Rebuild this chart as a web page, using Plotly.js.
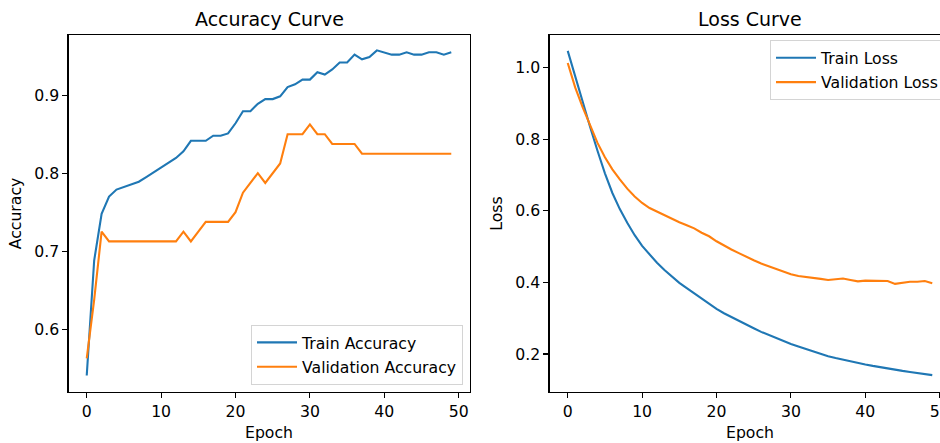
<!DOCTYPE html>
<html>
<head>
<meta charset="utf-8">
<script src="https://cdn.plot.ly/plotly-3.0.1.min.js"></script>
<style>
  html, body { margin: 0; padding: 0; background: #fff; overflow: hidden; }
  #chart { width: 960px; height: 443px; }
</style>
</head>
<body>
<div id="chart"></div>
<script>
// ---- data ----
const epochs = Array.from({length: 50}, (_, i) => i);

const trainAccuracy = [
  0.5406, 0.6880, 0.7480, 0.7700, 0.7790, 0.7820, 0.7855, 0.7890, 0.7950, 0.8010,
  0.8070, 0.8130, 0.8195, 0.8280, 0.8415, 0.8415, 0.8415, 0.8480, 0.8480, 0.8510,
  0.8640, 0.8795, 0.8795, 0.8890, 0.8950, 0.8950, 0.8985, 0.9105, 0.9140, 0.9200,
  0.9200, 0.9295, 0.9265, 0.9330, 0.9420, 0.9420, 0.9520, 0.9460, 0.9490, 0.9575,
  0.9550, 0.9520, 0.9520, 0.9550, 0.9520, 0.9520, 0.9550, 0.9550, 0.9520, 0.9550
];

const valAccuracy = [
  0.5625, 0.6375, 0.7250, 0.7125, 0.7125, 0.7125, 0.7125, 0.7125, 0.7125, 0.7125,
  0.7125, 0.7125, 0.7125, 0.7250, 0.7125, 0.7250, 0.7375, 0.7375, 0.7375, 0.7375,
  0.7500, 0.7750, 0.7875, 0.8000, 0.7875, 0.8000, 0.8125, 0.8500, 0.8500, 0.8500,
  0.8625, 0.8500, 0.8500, 0.8375, 0.8375, 0.8375, 0.8375, 0.8250, 0.8250, 0.8250,
  0.8250, 0.8250, 0.8250, 0.8250, 0.8250, 0.8250, 0.8250, 0.8250, 0.8250, 0.8250
];

const trainLoss = [
  1.047, 0.975, 0.905, 0.835, 0.768, 0.705, 0.650, 0.605, 0.567, 0.532,
  0.502, 0.477, 0.455, 0.435, 0.416, 0.399, 0.384, 0.369, 0.354, 0.340,
  0.326, 0.314, 0.303, 0.292, 0.281, 0.272, 0.262, 0.253, 0.244, 0.236,
  0.228, 0.221, 0.214, 0.207, 0.200, 0.194, 0.189, 0.184, 0.179, 0.175,
  0.171, 0.167, 0.163, 0.159, 0.156, 0.153, 0.150, 0.147, 0.144, 0.141
];

const valLoss = [
  1.013, 0.945, 0.890, 0.838, 0.790, 0.750, 0.716, 0.688, 0.662, 0.640,
  0.622, 0.608, 0.598, 0.587, 0.577, 0.568, 0.560, 0.551, 0.539, 0.529,
  0.515, 0.503, 0.492, 0.482, 0.471, 0.462, 0.453, 0.445, 0.438, 0.430,
  0.423, 0.418, 0.416, 0.413, 0.410, 0.407, 0.410, 0.411, 0.407, 0.403,
  0.405, 0.405, 0.404, 0.404, 0.396, 0.400, 0.402, 0.402, 0.404, 0.398
];

const xTicks = [0, 10, 20, 30, 40, 50];
const accTicks = [0.6, 0.7, 0.8, 0.9];
const lossTicks = [0.2, 0.4, 0.6, 0.8, 1.0];

// ---- layout geometry (pixels) ----
const W = 960, H = 443;
const px = v => v / W;
const py = v => (H - v) / H;

const BLUE = '#1f77b4', ORANGE = '#ff7f0e';
const FONT = 'DejaVu Sans, sans-serif';
const FS = 15.7;      // tick / label / legend size
const TFS = 19;       // title size

const traces = [
  {x: epochs, y: trainAccuracy, name: 'Train Accuracy', mode: 'lines', line: {color: BLUE, width: 2.1}, xaxis: 'x', yaxis: 'y', legend: 'legend', legendgroup: 'a1'},
  {x: epochs, y: valAccuracy, name: 'Validation Accuracy', mode: 'lines', line: {color: ORANGE, width: 2.1}, xaxis: 'x', yaxis: 'y', legend: 'legend', legendgroup: 'a2'},
  {x: epochs, y: trainLoss, name: 'Train Loss', mode: 'lines', line: {color: BLUE, width: 2.1}, xaxis: 'x2', yaxis: 'y2', legend: 'legend2', legendgroup: 'l1'},
  {x: epochs, y: valLoss, name: 'Validation Loss', mode: 'lines', line: {color: ORANGE, width: 2.1}, xaxis: 'x2', yaxis: 'y2', legend: 'legend2', legendgroup: 'l2'}
];

const axisCommon = {
  showline: true, mirror: true, linecolor: '#000', linewidth: 1.1,
  showgrid: false, zeroline: false,
  ticks: 'outside', ticklen: 5, tickwidth: 1.1, tickcolor: '#000',
  tickfont: {family: FONT, size: FS, color: '#000'},
  fixedrange: true
};

const legendCommon = {
  font: {family: FONT, size: FS, color: '#000'},
  bgcolor: 'rgba(255,255,255,0.8)',
  bordercolor: '#d4d4d4', borderwidth: 1,
  itemwidth: 40,
  traceorder: 'grouped', tracegroupgap: 1
};

const layout = {
  width: W, height: H,
  margin: {l: 0, r: 0, t: 0, b: 0},
  paper_bgcolor: '#fff', plot_bgcolor: '#fff',
  font: {family: FONT, color: '#000'},
  showlegend: true,
  xaxis: Object.assign({}, axisCommon, {
    domain: [px(68.5), px(469.5)], anchor: 'y',
    range: [-2.45, 51.45], tickvals: xTicks, ticktext: xTicks.map(String),
    title: {text: 'Epoch', font: {family: FONT, size: FS, color: '#000'}, standoff: 7}
  }),
  yaxis: Object.assign({}, axisCommon, {
    domain: [py(391.7), py(35.3)], anchor: 'x',
    range: [0.5198, 0.9768], tickvals: accTicks, ticktext: accTicks.map(v => v.toFixed(1)),
    title: {text: 'Accuracy', font: {family: FONT, size: FS, color: '#000'}, standoff: 8}
  }),
  xaxis2: Object.assign({}, axisCommon, {
    domain: [px(549.5), px(950.5)], anchor: 'y2',
    range: [-2.45, 51.45], tickvals: xTicks, ticktext: xTicks.map(String),
    title: {text: 'Epoch', font: {family: FONT, size: FS, color: '#000'}, standoff: 7}
  }),
  yaxis2: Object.assign({}, axisCommon, {
    domain: [py(391.7), py(35.3)], anchor: 'x2',
    range: [0.0948, 1.0905], tickvals: lossTicks, ticktext: lossTicks.map(v => v.toFixed(1)),
    title: {text: 'Loss', font: {family: FONT, size: FS, color: '#000'}, standoff: 8}
  }),
  legend: Object.assign({}, legendCommon, {
    x: px(463), xanchor: 'right', y: py(384.7), yanchor: 'bottom'
  }),
  legend2: Object.assign({}, legendCommon, {
    x: px(944), xanchor: 'right', y: py(40), yanchor: 'top'
  }),
  annotations: [
    {text: 'Accuracy Curve', xref: 'paper', yref: 'paper', x: px(269), y: py(19), xanchor: 'center', yanchor: 'middle', showarrow: false, font: {family: FONT, size: TFS, color: '#000'}},
    {text: 'Loss Curve', xref: 'paper', yref: 'paper', x: px(750), y: py(19), xanchor: 'center', yanchor: 'middle', showarrow: false, font: {family: FONT, size: TFS, color: '#000'}}
  ]
};

Plotly.newPlot('chart', traces, layout, {displayModeBar: false, responsive: false, staticPlot: true});
</script>
</body>
</html>
